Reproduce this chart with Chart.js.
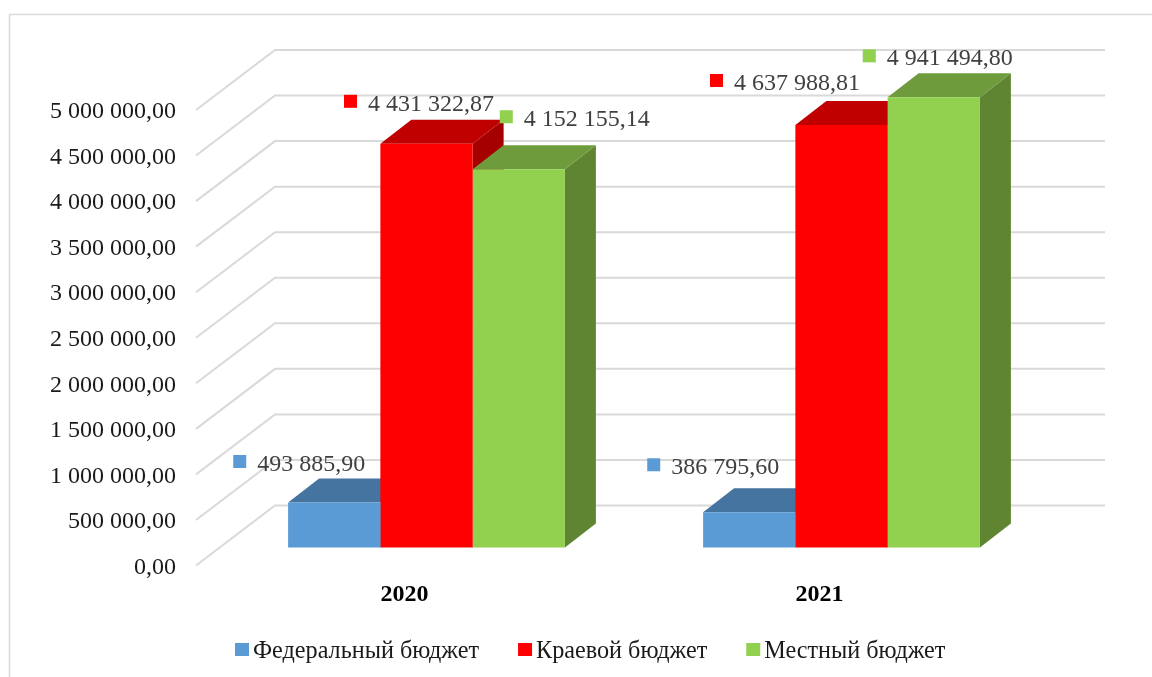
<!DOCTYPE html>
<html lang="ru">
<head>
<meta charset="utf-8">
<title>Бюджет</title>
<style>
html,body{margin:0;padding:0;background:#fff;overflow:hidden}
#wrap{position:relative;width:1152px;height:677px}
canvas{display:block}
</style>
<script src="https://cdn.jsdelivr.net/npm/chart.js@4"></script>
</head>
<body>
<div id="wrap"><canvas id="c" width="1152" height="677"></canvas></div>
<script>
const categories = ['2020', '2021'];
const federal = [493885.90, 386795.60];
const regional = [4431322.87, 4637988.81];
const local = [4152155.14, 4941494.80];
const seriesNames = ['Федеральный бюджет', 'Краевой бюджет', 'Местный бюджет'];

const FONT = '"Liberation Serif", "Times New Roman", serif';
const faces = [
  {front: '#5B9BD5', top: '#44749F', side: '#44749F'},
  {front: '#FF0000', top: '#C00000', side: '#A50000'},
  {front: '#92D050', top: '#6E9C3D', side: '#5F8532'}
];
const WALL = {dx: 79, dy: -60};
const PLANE = {dx: 23, dy: -18};
const DEPTH = {dx: 31, dy: -24};
const labelOffsets = [
  [[-78, -65.5], [-79, -72]],
  [[-59.5, -67], [-108.5, -69]],
  [[4, -77], [-48, -66]]
];

function fmt(v) {
  const parts = v.toFixed(2).split('.');
  return parts[0].replace(/\B(?=(\d{3})+(?!\d))/g, ' ') + ',' + parts[1];
}

const scene = {
  id: 'scene',
  beforeDraw(chart) {
    const c = chart.ctx;
    c.save();
    c.fillStyle = '#fff';
    c.fillRect(0, 0, chart.width, chart.height);
    c.strokeStyle = '#D9D9D9';
    c.lineWidth = 1.5;
    c.beginPath();
    c.moveTo(9.5, chart.height);
    c.lineTo(9.5, 14.5);
    c.lineTo(chart.width, 14.5);
    c.stroke();
    c.restore();
    chart.scales.y.getLabelItems().forEach(it => { it.options.translation[1] += 2; });
    chart.scales.x.getLabelItems().forEach(it => { it.options.translation[0] += 1; });
  },
  beforeDatasetsDraw(chart) {
    const c = chart.ctx, y = chart.scales.y, a = chart.chartArea;
    c.save();
    c.strokeStyle = '#D9D9D9';
    c.lineWidth = 2;
    y.ticks.forEach(t => {
      const py = y.getPixelForValue(t.value);
      c.beginPath();
      c.moveTo(a.left, py);
      c.lineTo(a.left + WALL.dx, py + WALL.dy);
      c.lineTo(a.right + WALL.dx, py + WALL.dy);
      c.stroke();
    });
    c.translate(PLANE.dx, PLANE.dy);
    chart.data.datasets.forEach((ds, i) => {
      const f = faces[i];
      chart.getDatasetMeta(i).data.forEach(el => {
        const p = el.getProps(['x', 'y', 'base', 'width'], true);
        const l = p.x - p.width / 2, r = p.x + p.width / 2;
        c.fillStyle = f.side;
        c.beginPath();
        c.moveTo(r, p.y);
        c.lineTo(r + DEPTH.dx, p.y + DEPTH.dy);
        c.lineTo(r + DEPTH.dx, p.base + DEPTH.dy);
        c.lineTo(r, p.base);
        c.closePath();
        c.fill();
        c.fillStyle = f.top;
        c.beginPath();
        c.moveTo(l, p.y);
        c.lineTo(l + DEPTH.dx, p.y + DEPTH.dy);
        c.lineTo(r + DEPTH.dx, p.y + DEPTH.dy);
        c.lineTo(r, p.y);
        c.closePath();
        c.fill();
      });
    });
    c.restore();
  },
  beforeDatasetDraw(chart) {
    chart.ctx.save();
    chart.ctx.translate(PLANE.dx, PLANE.dy);
  },
  afterDatasetDraw(chart) {
    chart.ctx.restore();
  },
  afterDatasetsDraw(chart) {
    const c = chart.ctx;
    c.save();
    c.font = '24px ' + FONT;
    c.textBaseline = 'alphabetic';
    c.textAlign = 'left';
    chart.data.datasets.forEach((ds, i) => {
      chart.getDatasetMeta(i).data.forEach((el, j) => {
        const o = labelOffsets[i][j];
        const kx = el.x + o[0], ky = el.y + o[1];
        c.fillStyle = faces[i].front;
        c.fillRect(kx, ky, 13, 13);
        c.fillStyle = '#404040';
        c.fillText(fmt(ds.data[j]), kx + 24, ky + 16);
      });
    });
    // legend
    c.font = '24.2px ' + FONT;
    let x = 235;
    seriesNames.forEach((name, i) => {
      c.fillStyle = faces[i].front;
      c.fillRect(x, 643, 14, 13);
      c.fillStyle = '#1a1a1a';
      c.fillText(name, x + 18, 658);
      x += 18 + c.measureText(name).width + 39;
    });
    c.restore();
  }
};

new Chart(document.getElementById('c'), {
  type: 'bar',
  data: {
    labels: categories,
    datasets: [
      {label: seriesNames[0], data: federal, backgroundColor: faces[0].front},
      {label: seriesNames[1], data: regional, backgroundColor: faces[1].front},
      {label: seriesNames[2], data: local, backgroundColor: faces[2].front}
    ]
  },
  plugins: [scene],
  options: {
    responsive: false,
    animation: false,
    layout: {padding: {top: 110, right: 126, left: 0, bottom: 0}},
    datasets: {bar: {categoryPercentage: 0.667, barPercentage: 1, borderWidth: 0, clip: false}},
    plugins: {legend: {display: false}, tooltip: {enabled: false}, title: {display: false}},
    scales: {
      x: {
        grid: {display: false, drawTicks: false},
        border: {display: false},
        afterFit(s) { s.height = 111.5; },
        ticks: {
          padding: 15,
          color: '#000',
          font: {family: FONT, size: 24, weight: 'bold'},
          maxRotation: 0
        }
      },
      y: {
        min: 0,
        max: 5000000,
        grid: {display: false, drawTicks: false},
        border: {display: false},
        afterFit(s) { s.width = 196; },
        ticks: {
          stepSize: 500000,
          padding: 20,
          color: '#1a1a1a',
          font: {family: FONT, size: 24},
          callback: v => fmt(v)
        }
      }
    }
  }
});
</script>
</body>
</html>
